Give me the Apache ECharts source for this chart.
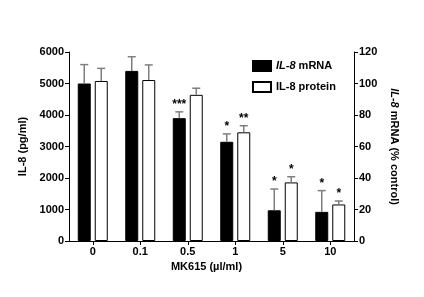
<!DOCTYPE html>
<html><head><meta charset="utf-8">
<script src="https://cdn.jsdelivr.net/npm/echarts@6/dist/echarts.min.js"></script>
<style>html,body{margin:0;padding:0;background:#fff}#c{width:424px;height:297px}</style>
</head><body><div id="c"></div>
<script>
const categories = ['0', '0.1', '0.5', '1', '5', '10'];
const mrnaValues = [100, 108, 78, 63, 19.5, 18.5];       // % control (right axis)
const mrnaErrors = [12, 9, 4, 5, 13.5, 13.5];
const mrnaStars = ['', '', '***', '*', '*', '*'];
const proteinValues = [5080, 5110, 4640, 3450, 1860, 1160]; // pg/ml (left axis)
const proteinErrors = [400, 480, 210, 210, 180, 110];
const proteinStars = ['', '', '', '**', '*', '*'];
const leftTicks = [0, 1000, 2000, 3000, 4000, 5000, 6000];
const rightTicks = [0, 20, 40, 60, 80, 100, 120];

const FONT = 'Liberation Sans';
const BAR_W = 13, GAP = 4;
const OFFSET = (BAR_W + GAP) / 2;

function errRender(values, errors, stars, dir) {
  return function (params, api) {
    const i = params.dataIndex;
    const base = api.coord([i, values[i]]);
    const top = api.coord([i, values[i] + errors[i]]);
    const x = base[0] + dir * OFFSET;
    const children = [
      {type: 'line', shape: {x1: x, y1: base[1], x2: x, y2: top[1]}, style: {stroke: '#7f7f7f', lineWidth: 1.5}},
      {type: 'line', shape: {x1: x - 4, y1: top[1], x2: x + 4, y2: top[1]}, style: {stroke: '#7f7f7f', lineWidth: 1.5}}
    ];
    if (stars[i]) {
      children.push({type: 'text', x: x, y: top[1] - 1,
        style: {text: stars[i], fill: '#000', font: 'bold 12px "' + FONT + '"', align: 'center', verticalAlign: 'bottom'}});
    }
    return {type: 'group', children: children};
  };
}

const chart = echarts.init(document.getElementById('c'), null, {renderer: 'canvas'});
const axisCommon = {
  axisLine: {show: true, lineStyle: {color: '#000', width: 1}},
  axisTick: {show: true, length: 4, lineStyle: {color: '#000'}},
  splitLine: {show: false},
  axisLabel: {color: '#000', fontFamily: FONT, fontWeight: 'bold', fontSize: 11, margin: 5,
    formatter: function (v) { return String(v); }},
  nameTextStyle: {color: '#000', fontFamily: FONT, fontWeight: 'bold', fontSize: 11,
    rich: {i: {fontStyle: 'italic', fontWeight: 'bold', fontFamily: FONT, fontSize: 11, color: '#000'}}}
};

chart.setOption({
  animation: false,
  backgroundColor: '#fff',
  grid: {left: 69, right: 70, top: 52, bottom: 56, containLabel: false},
  legend: {
    orient: 'vertical', left: 252, top: 60, padding: 0, itemWidth: 18, itemHeight: 10, itemGap: 9, icon: 'rect',
    data: ['mRNA', 'protein'],
    formatter: function (n) { return n === 'mRNA' ? '{i|IL-8} mRNA' : 'IL-8 protein'; },
    textStyle: {color: '#000', fontFamily: FONT, fontWeight: 'bold', fontSize: 11,
      rich: {i: {fontStyle: 'italic', fontWeight: 'bold', fontFamily: FONT, fontSize: 11, color: '#000'}}}
  },
  xAxis: Object.assign({}, axisCommon, {
    type: 'category', data: categories,
    axisTick: {show: true, length: 4, alignWithLabel: true, lineStyle: {color: '#000'}},
    axisLabel: {color: '#000', fontFamily: FONT, fontWeight: 'bold', fontSize: 11, margin: 5},
    name: 'MK615 (\u00b5l/ml)', nameLocation: 'middle', nameGap: 19,
    nameTextStyle: {color: '#000', fontFamily: FONT, fontWeight: 'bold', fontSize: 11, padding: [0, 10, 0, 0]}
  }),
  yAxis: [
    Object.assign({}, axisCommon, {
      type: 'value', min: 0, max: 6000, interval: 1000, position: 'left',
      name: 'IL-8 (pg/ml)', nameLocation: 'middle', nameGap: 38, nameRotate: 90
    }),
    Object.assign({}, axisCommon, {
      type: 'value', min: 0, max: 120, interval: 20, position: 'right',
      name: '{i|IL-8} mRNA (% control)', nameLocation: 'middle', nameGap: 27, nameRotate: -90
    })
  ],
  series: [
    {name: 'mRNA', type: 'bar', yAxisIndex: 1, data: mrnaValues, barWidth: BAR_W, barGap: (GAP / BAR_W * 100) + '%',
      itemStyle: {color: '#000', borderColor: '#000', borderWidth: 1}},
    {name: 'protein', type: 'bar', yAxisIndex: 0, data: proteinValues, barWidth: BAR_W,
      itemStyle: {color: '#fff', borderColor: '#000', borderWidth: 1}},
    {type: 'custom', yAxisIndex: 1, data: mrnaValues.map((v, i) => [i, v]),
      renderItem: errRender(mrnaValues, mrnaErrors, mrnaStars, -1), z: 5, silent: true},
    {type: 'custom', yAxisIndex: 0, data: proteinValues.map((v, i) => [i, v]),
      renderItem: errRender(proteinValues, proteinErrors, proteinStars, 1), z: 5, silent: true}
  ]
});
</script></body></html>
